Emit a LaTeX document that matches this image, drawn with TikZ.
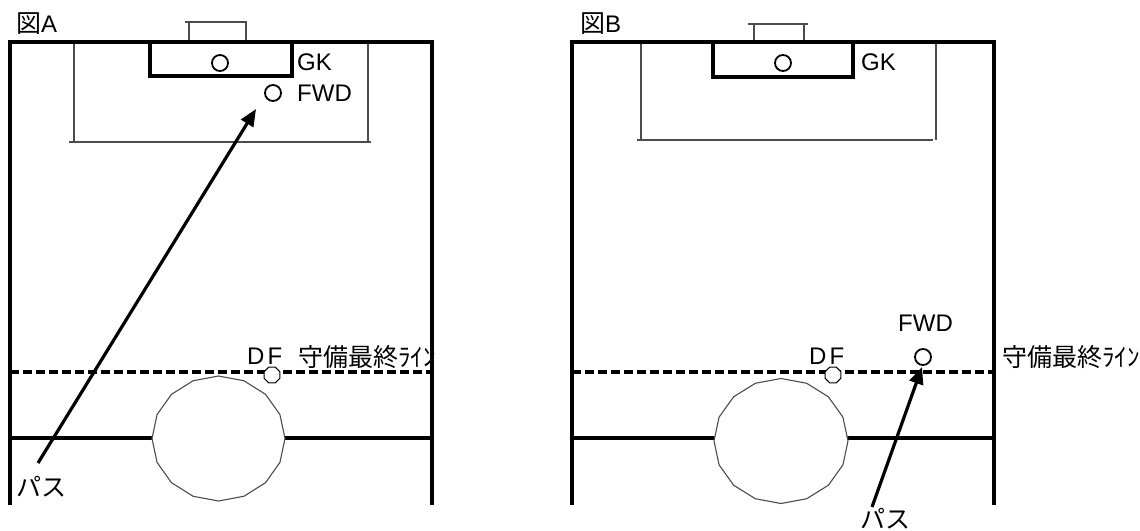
\documentclass[tikz,border=0pt]{standalone}
\usepackage{fontspec}
\setmainfont{Liberation Sans}
\newfontfamily\jp{Noto Sans CJK JP}
\usetikzlibrary{arrows.meta,shapes.geometric}
\begin{document}
\begin{tikzpicture}[x=1pt,y=-1pt,
 field/.style={line width=4pt, line cap=butt, line join=miter},
 thinline/.style={line width=1.1pt, draw=black!70},
 lastline/.style={line width=3.2pt, dash pattern=on 9pt off 4pt},
 pass/.style={line width=3.2pt, -{Triangle[length=17pt,width=14pt]}},
 player/.style={circle, draw, line width=1.8pt, minimum size=16pt, inner sep=0pt, fill=white},
 dfplayer/.style={regular polygon, regular polygon sides=8, draw, line width=1pt, minimum size=17pt, inner sep=0pt, fill=white},
 lbl/.style={inner sep=0pt, anchor=west, font=\fontsize{24}{26}\selectfont},
 jlbl/.style={inner sep=0pt, anchor=west, font=\fontsize{25}{27}\selectfont\jp},
 ]
\useasboundingbox (0,0) rectangle (1140,530);

% ================= Panel A =================
\node[jlbl] (titleA) at (16,24) {図\fontspec{Liberation Sans}\fontsize{24}{26}\selectfont A};
% goal
\draw[thinline] (189,42) -- (189,22) -- (185,22) -- (246,22) -- (246,42);
% penalty area
\draw[thinline] (74,42) -- (74,142);
\draw[thinline] (368,42) -- (368,142);
\draw[thinline] (69,142) -- (371,142);
% halfway line and center circle
\draw[field] (10,438) -- (432,438);
\draw[thinline, fill=white] plot[samples=17, domain=0:360, variable=\t] ({218.5+66.5*cos(\t)},{438.5+62.5*sin(\t)}) -- cycle;
% last defensive line
\draw[lastline] (10,372) -- (432,372);
% outer lines
\draw[field] (10,505) -- (10,42) -- (432,42) -- (432,505);
% goal area
\draw[field] (150,42) rectangle (292,76);
% players
\node[player] (gkA) at (220,63) {};
\node[lbl] (gkAl) at (297,62) {GK};
\node[player] (fwdA) at (273,93) {};
\node[lbl] (fwdAl) at (297,93) {FWD};
\node[dfplayer] (dfA) at (272,375) {};
\node[lbl] (dfAl) at (247,356) {D\kern3pt F};
\node[jlbl] (lineA) at (298,357) {守備最終ﾗｲﾝ};
% pass
\node[jlbl] (passA) at (16,487) {パス};
\coordinate (pAs) at (38,463);
\coordinate (pAe) at (256,109);
\draw[pass] (pAs) -- (pAe);

% ================= Panel B =================
\node[jlbl] (titleB) at (580,24) {図\fontspec{Liberation Sans}\fontsize{24}{26}\selectfont B};
% goal
\draw[thinline] (754,42) -- (754,24);
\draw[thinline] (804,42) -- (804,24);
\draw[thinline] (748,24) -- (808,24);
% penalty area
\draw[thinline] (641,42) -- (641,140);
\draw[thinline] (936,42) -- (936,140);
\draw[thinline] (637,140) -- (933,140);
% halfway line and center circle
\draw[field] (572,438) -- (994,438);
\draw[thinline, fill=white] plot[samples=17, domain=0:360, variable=\t] ({781+67*cos(\t)},{441+62.5*sin(\t)}) -- cycle;
% last defensive line
\draw[lastline] (572,372) -- (994,372);
% outer lines
\draw[field] (572,505) -- (572,42) -- (994,42) -- (994,505);
% goal area
\draw[field] (713,42) rectangle (853,77);
% players
\node[player] (gkB) at (783,63) {};
\node[lbl] (gkBl) at (861,62) {GK};
\node[dfplayer] (dfB) at (833,375) {};
\node[lbl] (dfBl) at (809,356) {D\kern3pt F};
\node[player] (fwdB) at (923,357) {};
\node[lbl] (fwdBl) at (898,323) {FWD};
\node[jlbl] (lineB) at (1002,357) {守備最終ﾗｲﾝ};
% pass
\node[jlbl] (passB) at (860,519) {パス};
\coordinate (pBs) at (872,507);
\coordinate (pBe) at (922,367);
\draw[pass] (pBs) -- (pBe);
\end{tikzpicture}
\end{document}
